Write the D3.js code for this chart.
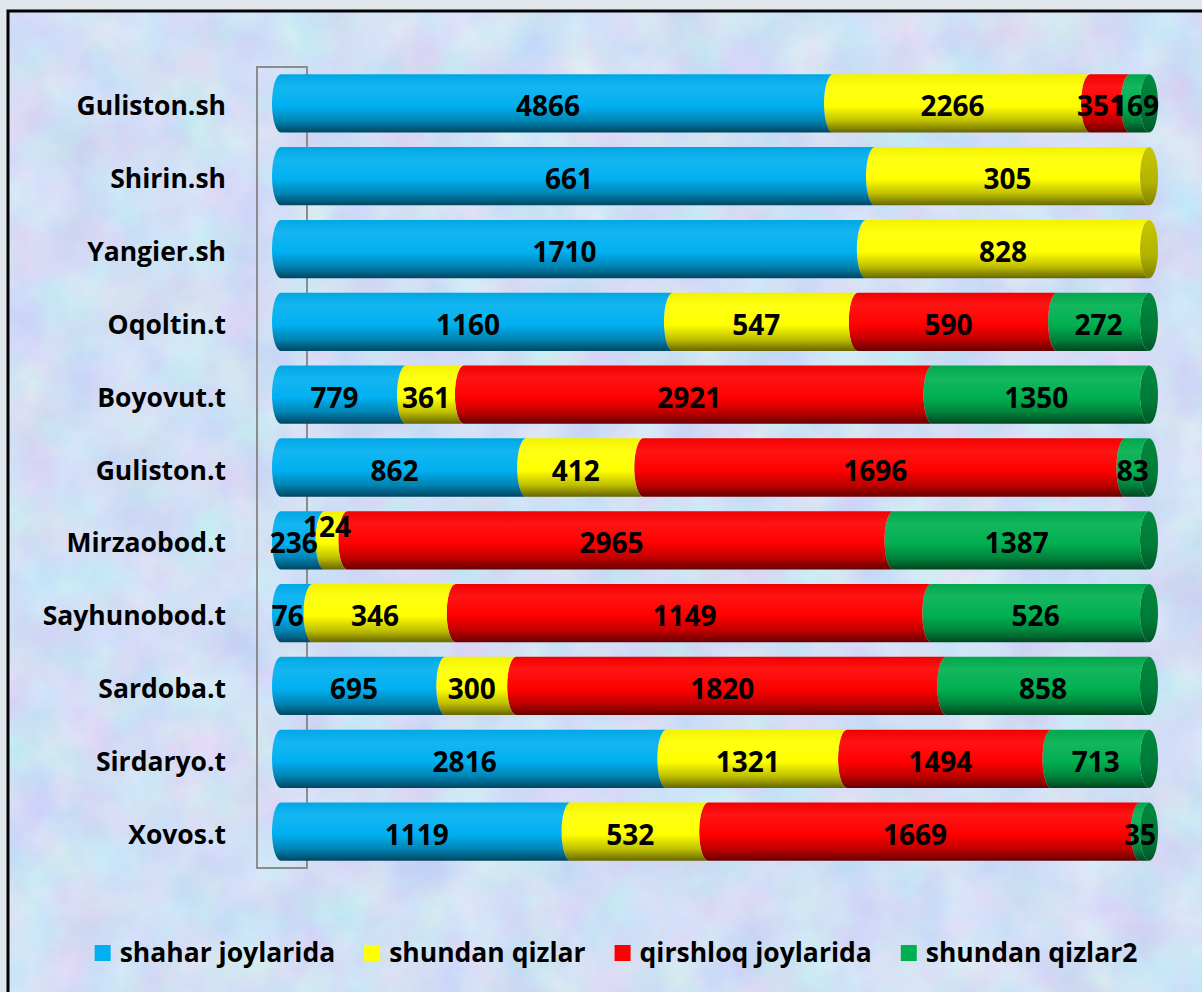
<!DOCTYPE html>
<html>
<head>
<meta charset="utf-8">
<script src="https://cdn.jsdelivr.net/npm/d3@7"></script>
<style>
  body { margin: 0; background: #dfe6ec; }
  svg { display: block; }
  .cat { font-family: "Open Sans", sans-serif; font-weight: bold; font-size: 26.5px; fill: #000; }
  .val { font-family: "Open Sans", sans-serif; font-weight: bold; font-size: 28px; fill: #000; }
  .leg { font-family: "Open Sans", sans-serif; font-weight: bold; font-size: 26.5px; fill: #000; }
</style>
</head>
<body>
<div id="chart"></div>
<script>
// data
var categories = ["Guliston.sh", "Shirin.sh", "Yangier.sh", "Oqoltin.t", "Boyovut.t", "Guliston.t",
                  "Mirzaobod.t", "Sayhunobod.t", "Sardoba.t", "Sirdaryo.t", "Xovos.t"];
var shaharJoylarida  = [4866, 661, 1710, 1160, 779, 862, 236, 76, 695, 2816, 1119];
var shundanQizlar    = [2266, 305, 828, 547, 361, 412, 124, 346, 300, 1321, 532];
var qirshloqJoylarida = [351, 0, 0, 590, 2921, 1696, 2965, 1149, 1820, 1494, 1669];
var shundanQizlar2   = [169, 0, 0, 272, 1350, 83, 1387, 526, 858, 713, 35];
var seriesNames = ["shahar joylarida", "shundan qizlar", "qirshloq joylarida", "shundan qizlar2"];
var seriesColors = ["#00b0f0", "#ffff00", "#ff0000", "#00b050"];

var series = [shaharJoylarida, shundanQizlar, qirshloqJoylarida, shundanQizlar2];

var W = 1202, H = 992;
var svg = d3.select("#chart").append("svg")
    .attr("width", W)
    .attr("height", H);

var defs = svg.append("defs");

// mottled paper background
var tex = defs.append("filter").attr("id", "tex")
    .attr("x", 0).attr("y", 0).attr("width", "100%").attr("height", "100%")
    .attr("color-interpolation-filters", "sRGB");
tex.append("feTurbulence")
    .attr("type", "fractalNoise")
    .attr("baseFrequency", 0.018)
    .attr("numOctaves", 4)
    .attr("seed", 7);
tex.append("feColorMatrix")
    .attr("type", "matrix")
    .attr("values", "0.18 0 0 0 0.73  0 0.15 0 0 0.8  0 0 0.06 0 0.93  0 0 0 0 1");

// cylinder gradients, one for the body and one for the end cap
function shade(c, k) { return d3.interpolateRgb(c, "#000")(k); }
function tint(c, k) { return d3.interpolateRgb(c, "#fff")(k); }

seriesColors.forEach(function(c, i) {
    var g = defs.append("linearGradient").attr("id", "body" + i)
        .attr("x1", 0).attr("y1", 0).attr("x2", 0).attr("y2", 1);
    g.append("stop").attr("offset", "0%").attr("stop-color", shade(c, 0.05));
    g.append("stop").attr("offset", "22%").attr("stop-color", tint(c, 0.08));
    g.append("stop").attr("offset", "55%").attr("stop-color", c);
    g.append("stop").attr("offset", "80%").attr("stop-color", shade(c, 0.25));
    g.append("stop").attr("offset", "100%").attr("stop-color", shade(c, 0.6));

    var cg = defs.append("linearGradient").attr("id", "cap" + i)
        .attr("x1", 0).attr("y1", 0).attr("x2", 0).attr("y2", 1);
    cg.append("stop").attr("offset", "0%").attr("stop-color", shade(c, 0.22));
    cg.append("stop").attr("offset", "60%").attr("stop-color", shade(c, 0.3));
    cg.append("stop").attr("offset", "100%").attr("stop-color", shade(c, 0.5));
});

// background panel
svg.append("rect")
    .attr("x", 8).attr("y", 11)
    .attr("width", W).attr("height", H)
    .attr("filter", "url(#tex)");
svg.append("rect")
    .attr("x", 8).attr("y", 11)
    .attr("width", W).attr("height", H)
    .attr("fill", "none")
    .attr("stroke", "#000")
    .attr("stroke-width", 3);

// scales
var x = d3.scaleLinear().domain([0, 1]).range([272, 1140]);
var y = d3.scaleBand().domain(categories).range([67, 868])
    .paddingInner(0.2).paddingOuter(0.1);
var rx = 9;

// back wall of the 3D plot
svg.append("path")
    .attr("d", "M" + (x(0) + 35) + "," + y.range()[0] +
               "H" + (x(0) - 15) + "V" + y.range()[1] +
               "H" + (x(0) + 35) + "Z")
    .attr("fill", "none")
    .attr("stroke", "#8c8c8c")
    .attr("stroke-width", 2);
svg.append("line")
    .attr("x1", x(0) + 35).attr("x2", x(0) + 35)
    .attr("y1", y.range()[0]).attr("y2", y.range()[1])
    .attr("stroke", "#8c8c8c")
    .attr("stroke-width", 2);

// stacked rows, as shares of each row total
var rows = categories.map(function(cat, r) {
    var total = d3.sum(series, function(s) { return s[r]; });
    var acc = 0, segs = [];
    series.forEach(function(s, i) {
        var v = s[r];
        if (v > 0) {
            segs.push({ cat: cat, s: i, v: v, a: acc / total, b: (acc + v) / total });
        }
        acc += v;
    });
    return { cat: cat, segs: segs };
});

function segPath(xa, xb, top, bot) {
    var ry = (bot - top) / 2;
    return "M" + (xa + rx) + "," + top +
        "L" + (xb + rx) + "," + top +
        "A" + rx + "," + ry + " 0 0 0 " + (xb + rx) + "," + bot +
        "L" + (xa + rx) + "," + bot +
        "A" + rx + "," + ry + " 0 0 1 " + (xa + rx) + "," + top + "Z";
}

var rowG = svg.selectAll(".row")
    .data(rows)
    .enter().append("g")
    .attr("class", "row");

rowG.each(function(row) {
    var g = d3.select(this);
    var top = y(row.cat), bot = y(row.cat) + y.bandwidth();
    // draw right to left so each left cap sits over the previous piece
    row.segs.slice().reverse().forEach(function(d, k) {
        if (k === 0) {
            g.append("ellipse")
                .attr("cx", x(d.b) + rx)
                .attr("cy", (top + bot) / 2)
                .attr("rx", rx)
                .attr("ry", (bot - top) / 2)
                .attr("fill", "url(#cap" + d.s + ")");
        }
        g.append("path")
            .attr("d", segPath(x(d.a), x(d.b), top, bot))
            .attr("fill", "url(#body" + d.s + ")");
    });
});

// value labels; the yellow label in Mirzaobod.t is lifted as in the original
var lifted = { "Mirzaobod.t|1": -16 };
rowG.each(function(row) {
    var g = d3.select(this);
    var cy = y(row.cat) + y.bandwidth() / 2;
    row.segs.forEach(function(d) {
        var dy = lifted[d.cat + "|" + d.s] || 0;
        g.append("text")
            .attr("class", "val")
            .attr("x", (x(d.a) + x(d.b)) / 2 + (d.b === 1 ? rx / 2 : 0))
            .attr("y", cy + 13 + dy)
            .attr("text-anchor", "middle")
            .text(d.v);
    });
});

// category labels
svg.selectAll(".cat")
    .data(categories)
    .enter().append("text")
    .attr("class", "cat")
    .attr("x", 226)
    .attr("y", function(d) { return y(d) + y.bandwidth() / 2 + 12; })
    .attr("text-anchor", "end")
    .text(function(d) { return d; });

// legend
var legend = svg.append("g").attr("class", "legend");
var lx = 0;
seriesNames.forEach(function(name, i) {
    var item = legend.append("g").attr("transform", "translate(" + lx + ",0)");
    item.append("rect")
        .attr("x", 0).attr("y", -8)
        .attr("width", 16).attr("height", 16)
        .attr("fill", seriesColors[i]);
    var t = item.append("text")
        .attr("class", "leg")
        .attr("x", 25).attr("y", 9)
        .text(name);
    lx += 25 + t.node().getComputedTextLength() + 29;
});
var legW = lx - 29;
legend.attr("transform", "translate(" + (616 - legW / 2) + ",953)");
</script>
</body>
</html>
